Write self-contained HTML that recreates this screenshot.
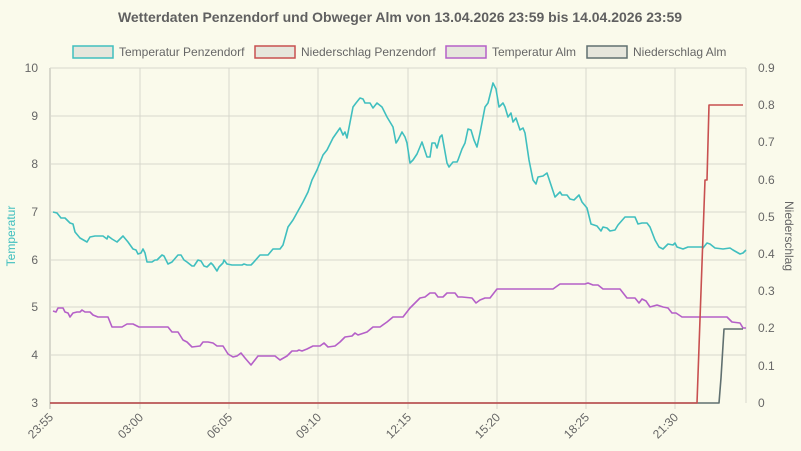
<!DOCTYPE html>
<html><head><meta charset="utf-8"><style>
body{margin:0;background:#fafaeb;}
svg{display:block;font-family:"Liberation Sans",sans-serif;}
</style></head><body>
<svg width="801" height="451" viewBox="0 0 801 451">
<rect width="801" height="451" fill="#fafaeb"/>
<text x="400" y="22" text-anchor="middle" font-size="14" font-weight="bold" fill="#606060">Wetterdaten Penzendorf und Obweger Alm von 13.04.2026 23:59 bis 14.04.2026 23:59</text>
<g font-size="12" fill="#666">
<rect x="73" y="46" width="40" height="12" fill="#e6e6dc" stroke="#40bfbf" stroke-width="1.5"/><text x="119" y="56">Temperatur Penzendorf</text>
<rect x="255" y="46" width="40" height="12" fill="#e6e6dc" stroke="#c85050" stroke-width="1.5"/><text x="301" y="56">Niederschlag Penzendorf</text>
<rect x="446" y="46" width="40" height="12" fill="#e6e6dc" stroke="#b560c8" stroke-width="1.5"/><text x="492" y="56">Temperatur Alm</text>
<rect x="587" y="46" width="40" height="12" fill="#e6e6dc" stroke="#607070" stroke-width="1.5"/><text x="633" y="56">Niederschlag Alm</text>
</g>
<g stroke="#d8d8cc" stroke-width="1">
<line x1="50" y1="68" x2="746" y2="68"/><line x1="50" y1="116" x2="746" y2="116"/><line x1="50" y1="164" x2="746" y2="164"/><line x1="50" y1="212" x2="746" y2="212"/><line x1="50" y1="260" x2="746" y2="260"/><line x1="50" y1="307" x2="746" y2="307"/><line x1="50" y1="355" x2="746" y2="355"/>
<line x1="140" y1="68" x2="140" y2="409"/><line x1="229" y1="68" x2="229" y2="409"/><line x1="318" y1="68" x2="318" y2="409"/><line x1="408" y1="68" x2="408" y2="409"/><line x1="497" y1="68" x2="497" y2="409"/><line x1="586" y1="68" x2="586" y2="409"/><line x1="675" y1="68" x2="675" y2="409"/><line x1="746" y1="68" x2="746" y2="403"/>
<line x1="50" y1="68" x2="50" y2="409" stroke-width="2"/>
</g>
<g font-size="12" fill="#666" text-anchor="end">
<text x="38" y="72">10</text><text x="38" y="120">9</text><text x="38" y="168">8</text><text x="38" y="216">7</text><text x="38" y="264">6</text><text x="38" y="311">5</text><text x="38" y="359">4</text><text x="38" y="407">3</text>
</g>
<g font-size="12" fill="#666">
<text x="758" y="72">0.9</text><text x="758" y="109">0.8</text><text x="758" y="146">0.7</text><text x="758" y="184">0.6</text><text x="758" y="221">0.5</text><text x="758" y="258">0.4</text><text x="758" y="295">0.3</text><text x="758" y="332">0.2</text><text x="758" y="370">0.1</text><text x="758" y="407">0</text>
</g>
<text transform="translate(15,236) rotate(-90)" text-anchor="middle" font-size="12" fill="#40bfbf">Temperatur</text>
<text transform="translate(785,236) rotate(90)" text-anchor="middle" font-size="12" fill="#666">Niederschlag</text>
<g font-size="12" fill="#666" text-anchor="end">
<text transform="translate(54,418) rotate(-45)">23:55</text>
<text transform="translate(144,418) rotate(-45)">03:00</text>
<text transform="translate(233,418) rotate(-45)">06:05</text>
<text transform="translate(322,418) rotate(-45)">09:10</text>
<text transform="translate(412,418) rotate(-45)">12:15</text>
<text transform="translate(501,418) rotate(-45)">15:20</text>
<text transform="translate(590,418) rotate(-45)">18:25</text>
<text transform="translate(679,418) rotate(-45)">21:30</text>
</g>
<g fill="none" stroke-width="1.6" stroke-linejoin="round">
<polyline stroke="#b560c8" points="53,311 56,312 58,308 63,308 65,312 68,313 70,317 73,313 77,312 80,312 82,310 85,312 88,312 90,312 93,315 98,317 108,317 112,327 122,327 127,324 133,324 139,327 168,327 172,332 178,332 183,340 187,342 192,347 200,346 203,342 208,342 213,343 217,346 223,346 228,354 233,357 237,356 241,353 245,358 251,365 258,356 275,356 280,360 287,356 292,351 297,351 299,350 302,351 307,349 313,346 320,346 324,343 328,347 335,346 340,342 345,337 352,336 355,333 358,335 367,332 373,327 380,327 387,322 393,317 403,317 410,308 415,303 420,298 425,297 430,293 435,293 438,297 443,297 447,293 455,293 458,297 462,297 472,298 476,303 480,300 485,298 490,298 497,289 553,289 560,284 585,284 588,283 593,285 598,285 603,289 620,289 627,298 635,298 639,303 642,299 646,301 650,307 657,305 663,307 668,308 672,313 676,313 682,317 690,317 727,317 732,322 740,323 743,328 746,328"/>
<polyline stroke="#40bfbf" points="53,212 57,213 61,218 65,218 70,223 73,224 75,232 80,238 87,242 90,237 95,236 103,236 107,239 108,236 112,239 117,242 123,236 128,242 133,249 136,250 138,254 141,253 143,249 145,253 147,262 152,262 155,260 157,260 162,255 164,256 168,264 172,262 178,255 181,255 184,260 187,262 192,266 194,266 198,260 201,261 204,266 207,267 211,263 213,265 217,271 219,267 223,263 224,260 227,264 232,265 242,265 244,264 247,265 251,265 253,263 260,255 268,255 273,249 280,249 283,245 288,227 293,220 303,202 308,192 312,180 317,170 323,155 327,150 333,138 340,128 343,135 345,132 347,138 353,107 356,103 360,98 363,99 365,103 370,103 373,108 377,103 382,107 387,117 393,127 396,143 398,140 402,132 405,137 407,143 410,163 413,160 417,154 422,142 427,157 430,157 432,143 435,143 437,148 440,137 442,135 447,163 449,167 453,162 457,162 458,160 462,149 465,143 468,129 471,130 474,140 477,147 480,133 485,107 488,103 493,83 496,89 499,107 503,103 505,107 508,117 511,113 513,122 516,118 520,130 523,128 525,133 529,160 533,180 536,184 538,177 543,176 547,173 551,185 555,197 560,192 562,195 567,195 570,199 574,200 579,195 582,202 587,208 591,224 597,226 601,231 603,227 607,228 610,231 615,230 618,225 625,217 635,217 638,224 642,223 647,223 650,227 655,240 659,247 663,249 668,244 673,245 675,243 677,247 683,249 688,247 702,247 703,248 707,243 710,244 715,248 723,249 730,248 733,250 740,254 743,253 746,250"/>
<polyline stroke="#607070" points="50,403 719,403 721,378 724,329 743,329"/>
<polyline stroke="#c85050" points="50,403 697,403 705,180 707,180 709,105 743,105"/>
</g>
</svg>
</body></html>
